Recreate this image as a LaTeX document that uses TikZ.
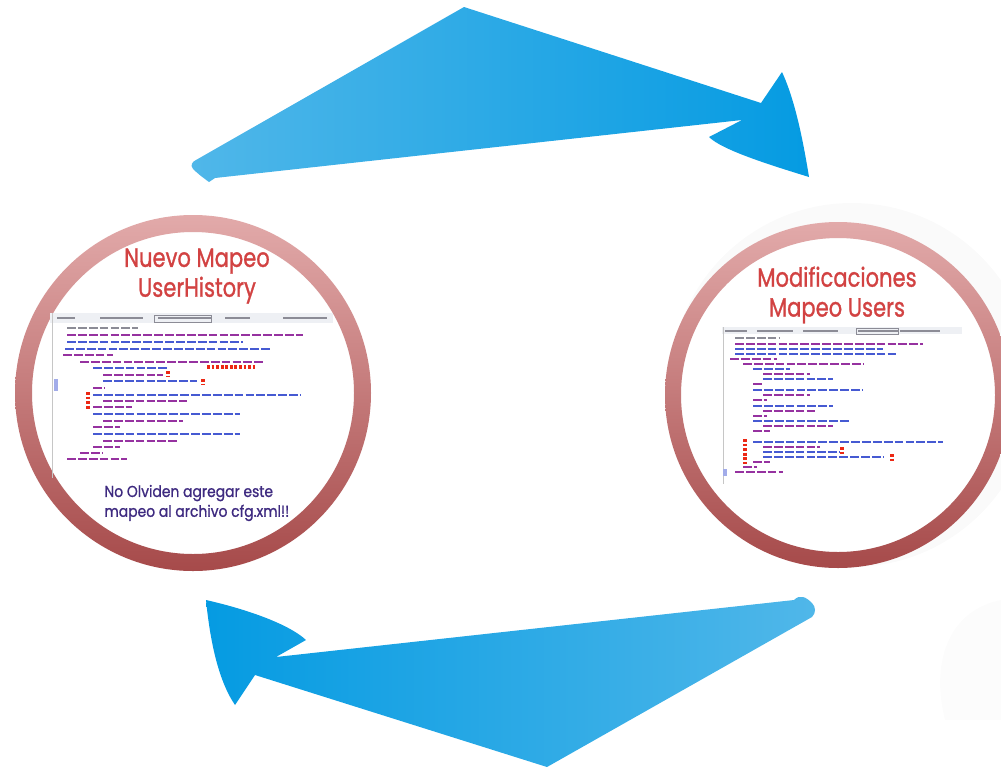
\documentclass[tikz,border=0pt]{standalone}
\usepackage{fontspec}
\newfontfamily\handfont[FakeBold=1.2]{Poppins}
\newfontfamily\notefont[FakeBold=1]{Poppins}
\usetikzlibrary{positioning, calc}
\definecolor{arrowlight}{RGB}{80,183,233}
\definecolor{arrowmid}{RGB}{50,174,232}
\definecolor{arrowdark}{RGB}{5,155,226}
\definecolor{ringtop}{RGB}{226,170,170}
\definecolor{ringbot}{RGB}{166,74,74}
\definecolor{titlered}{RGB}{210,66,66}
\definecolor{notepurple}{RGB}{62,42,128}
\definecolor{codegray}{RGB}{140,140,150}
\definecolor{codeblue}{RGB}{70,90,210}
\definecolor{codepurple}{RGB}{150,50,160}
\definecolor{markred}{RGB}{236,40,20}
\definecolor{tabgray}{RGB}{238,240,244}
\tikzset{
  title/.style={text=titlered, align=center, xscale=0.8, font=\handfont\fontsize{15}{17}\selectfont},
  note/.style={text=notepurple, align=left, anchor=west, xscale=0.88, font=\notefont\fontsize{9}{11.3}\selectfont},
  codeline/.style={line width=1pt, dash pattern=on 5pt off 1.2pt},
  tabtext/.style={line width=1.2pt, color=codegray},
  marker/.style={line width=2pt, color=markred, dash pattern=on 1.6pt off 1pt},
  gutter/.style={thin, color=gray!45}
}
\begin{document}
\begin{tikzpicture}[x=0.02cm, y=-0.02cm]
  \useasboundingbox (0,0) rectangle (1001,768);

  % Faint shadows
  \fill[gray!4] (852,385) circle (182);
  \fill[gray!2] (1001,600) .. controls (950,610) and (930,660) .. (945,720) -- (1001,720) -- cycle;

  % Top arrow
  \shade[left color=arrowlight, right color=arrowdark]
    (209,182) .. controls (202,177) and (196,172) .. (193,169)
    .. controls (190,165) and (192,162) .. (196,160)
    -- (464,7) -- (761,103) -- (782,72)
    .. controls (795,100) and (803,140) .. (809,177)
    .. controls (770,165) and (722,150) .. (709,137)
    -- (742,120) -- (215,178) -- cycle;

  % Bottom arrow
  \shade[left color=arrowdark, right color=arrowlight]
    (276,657) -- (794,600)
    .. controls (800,594) and (806,597) .. (812,603)
    .. controls (816,607) and (816,613) .. (812,617)
    -- (547,767) -- (255,675) -- (235,705)
    .. controls (218,680) and (210,640) .. (206,600)
    .. controls (250,610) and (290,625) .. (306,640) -- cycle;

  % Circles
  \node[circle, minimum size=7.08cm, inner sep=0pt] (ringL) at (193,393) {};
  \node[circle, minimum size=6.92cm, inner sep=0pt] (ringR) at (838,395) {};
  \fill[white] (ringL.center) circle (162);
  \fill[white] (ringR.center) circle (157);
  \shade[top color=ringtop, bottom color=ringbot, even odd rule]
    (ringL.center) circle (178) (ringL.center) circle (161);
  \shade[top color=ringtop, bottom color=ringbot, even odd rule]
    (ringR.center) circle (173) (ringR.center) circle (157);

  % Left screenshot
  \fill[tabgray] (50,313) rectangle (333,323);
  \draw[gutter] (52,313) -- (52,478);
  \foreach \a/\b in {57/75, 100/143, 158/212, 225/250, 283/327}
    \draw[tabtext] (\a,318) -- (\b,318);
  \draw[codegray] (154,315) rectangle (211,322);
  \foreach \y/\a/\b/\c in {328/67/138/codegray, 335/67/303/codepurple, 342/67/243/codeblue,
      349/65/270/codeblue, 355/63/113/codepurple, 362/80/263/codepurple, 368/93/167/codeblue,
      375/103/163/codepurple, 381/103/197/codeblue, 388/93/105/codepurple, 395/93/300/codeblue,
      401/103/187/codepurple, 407/93/132/codepurple, 414/93/240/codeblue, 421/103/183/codepurple,
      427/93/120/codepurple, 434/93/240/codeblue, 441/103/177/codepurple, 447/93/120/codepurple,
      453/80/103/codepurple, 459/67/127/codepurple}
    \draw[codeline, \c] (\a,\y) -- (\b,\y);
  \draw[marker] (207,367) -- (257,367);
  \draw[marker] (168,371) -- (168,377);
  \draw[marker] (203,379) -- (203,385);
  \draw[marker] (88,392) -- (88,409);
  \draw[line width=2pt, codeblue!50] (56,379) -- (56,391);

  % Right screenshot
  \fill[tabgray] (722,327) rectangle (962,334);
  \draw[gutter] (723,327) -- (723,484);
  \foreach \a/\b in {725/747, 757/793, 803/838, 858/898, 900/940}
    \draw[tabtext] (\a,331) -- (\b,331);
  \draw[codegray] (856,328) rectangle (898,334);
  \foreach \y/\a/\b/\c in {338/735/780/codegray, 344/735/923/codepurple, 349/735/883/codeblue,
      354/735/897/codeblue, 359/730/777/codepurple, 364/743/863/codepurple, 369/753/790/codeblue,
      374/763/810/codepurple, 379/763/833/codeblue, 384/753/763/codepurple, 390/753/863/codeblue,
      395/763/810/codepurple, 400/753/767/codepurple, 406/753/833/codeblue, 411/763/817/codepurple,
      416/753/767/codepurple, 421/753/850/codeblue, 426/763/833/codepurple, 431/753/770/codepurple,
      442/753/943/codeblue, 447/763/820/codepurple, 452/763/840/codeblue, 457/763/883/codeblue,
      462/753/770/codepurple, 467/743/757/codepurple, 472/735/783/codepurple}
    \draw[codeline, line width=0.8pt, \c] (\a,\y) -- (\b,\y);
  \draw[marker] (745,439) -- (745,464);
  \draw[marker] (842,447) -- (842,454);
  \draw[marker] (892,454) -- (892,461);
  \draw[line width=2pt, codeblue!50] (725,469) -- (725,476);

  % Titles and note
  \node[title] (titleL) at (197,276) {Nuevo Mapeo\\UserHistory};
  \node[title] (titleR) at (837,295) {Modificaciones\\Mapeo Users};
  \node[note] (noteL) at (99,503) {No Olviden agregar este\\mapeo al archivo cfg.xml!!};
\end{tikzpicture}
\end{document}
